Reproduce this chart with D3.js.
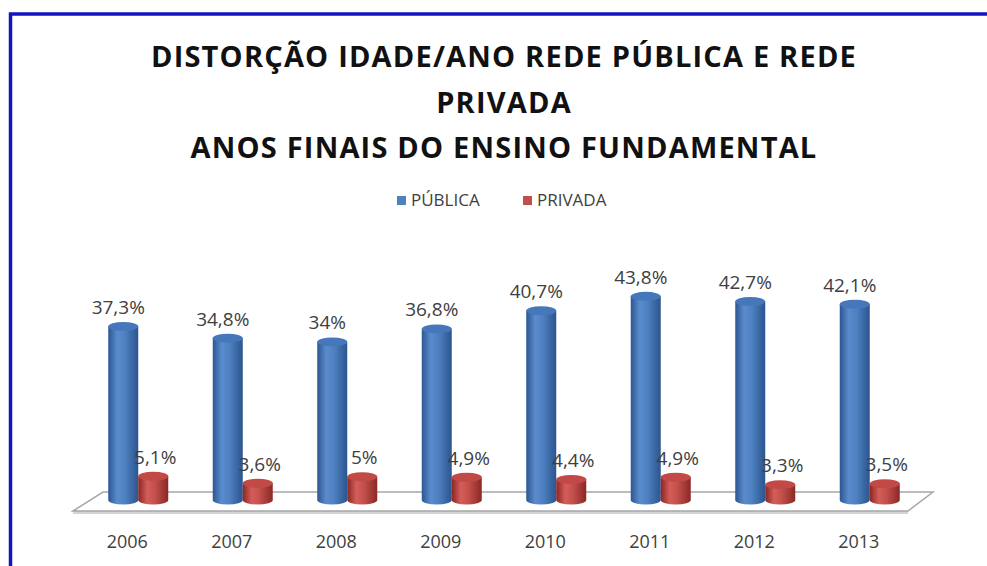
<!DOCTYPE html>
<html>
<head>
<meta charset="utf-8">
<script src="https://cdn.jsdelivr.net/npm/d3@7"></script>
<style>
  body { margin: 0; background: #fff; }
  svg { display: block; }
</style>
</head>
<body>
<svg id="chart" width="987" height="566"></svg>
<script>
var years = ['2006', '2007', '2008', '2009', '2010', '2011', '2012', '2013'];
var publica = [37.3, 34.8, 34, 36.8, 40.7, 43.8, 42.7, 42.1];
var privada = [5.1, 3.6, 5, 4.9, 4.4, 4.9, 3.3, 3.5];
var publicaLabels = ['37,3%', '34,8%', '34%', '36,8%', '40,7%', '43,8%', '42,7%', '42,1%'];
var privadaLabels = ['5,1%', '3,6%', '5%', '4,9%', '4,4%', '4,9%', '3,3%', '3,5%'];
var titleLines = ['DISTORÇÃO IDADE/ANO REDE PÚBLICA E REDE', 'PRIVADA', 'ANOS FINAIS DO ENSINO FUNDAMENTAL'];
var seriesNames = ['PÚBLICA', 'PRIVADA'];

var svg = d3.select('#chart');
var font = '"Open Sans", "Liberation Sans", sans-serif';

// frame
svg.append('path')
  .attr('d', 'M10.5,566 L10.5,14 L987,14')
  .attr('fill', 'none')
  .attr('stroke', '#1414c4')
  .attr('stroke-width', 3.5);

// title
svg.selectAll('.title')
  .data(titleLines)
  .enter().append('text')
  .attr('class', 'title')
  .attr('x', 504)
  .attr('y', (d, i) => 67 + i * 45.5)
  .attr('text-anchor', 'middle')
  .style('font-family', font)
  .style('font-weight', 'bold')
  .style('font-size', '29px')
  .style('letter-spacing', '1.2px')
  .style('fill', '#111')
  .text(d => d);

var x = d3.scaleBand().domain(years).range([75, 911]);
var y = d3.scaleLinear().domain([0, 45]).range([500, 290.75]);
var bw = x.bandwidth();
var r = 15;
var ry = 4.5;

var defs = svg.append('defs');
function grad(id, stops) {
  var g = defs.append('linearGradient').attr('id', id)
    .attr('x1', '0%').attr('x2', '100%').attr('y1', '0%').attr('y2', '0%');
  stops.forEach(s => g.append('stop').attr('offset', s[0]).attr('stop-color', s[1]));
}
grad('gBlue', [['0%', '#2c5691'], ['30%', '#5a8ccd'], ['55%', '#4f81c2'], ['100%', '#2b558e']]);
grad('gRed', [['0%', '#8a2624'], ['30%', '#d35d59'], ['55%', '#c4504c'], ['100%', '#8b2826']]);

// floor
var x0 = x.range()[0], x1 = x.range()[1], y0 = y(0);
var floor = [[x0 - 2, y0 + 11], [x0 + 28, y0 - 8], [x1 + 22, y0 - 8], [x1 - 3, y0 + 11]];
svg.append('path')
  .attr('d', 'M' + [x0 - 2, y0 + 11] + 'L' + [x1 - 3, y0 + 11] + 'L' + [x1 - 3, y0 + 14] + 'L' + [x0 - 2, y0 + 14] + 'Z')
  .attr('fill', '#d4d4d4');
svg.append('path')
  .attr('d', 'M' + floor.join('L') + 'Z')
  .attr('fill', '#fff')
  .attr('stroke', '#a6a6a6')
  .attr('stroke-width', 1.5);

function cylinder(cx, top, fillId, topColor) {
  var g = svg.append('g');
  g.append('path')
    .attr('d', 'M' + (cx - r) + ',' + top + 'L' + (cx - r) + ',' + y0 +
      'A' + r + ',' + ry + ' 0 0 0 ' + (cx + r) + ',' + y0 +
      'L' + (cx + r) + ',' + top + 'Z')
    .attr('fill', 'url(#' + fillId + ')');
  g.append('ellipse')
    .attr('cx', cx).attr('cy', top)
    .attr('rx', r).attr('ry', ry)
    .attr('fill', topColor);
}

var blueCx = d => x(d) + bw / 2 - 4;
var redCx = d => x(d) + bw / 2 + 26;

years.forEach(function (yr, i) {
  cylinder(blueCx(yr), y(publica[i]), 'gBlue', '#4677bb');
  cylinder(redCx(yr), y(privada[i]), 'gRed', '#c24a46');
});

var lblStyle = sel => sel
  .attr('text-anchor', 'middle')
  .style('font-family', font)
  .style('font-size', '19px')
  .style('fill', '#404040');

svg.selectAll('.lblPub')
  .data(years)
  .enter().append('text')
  .attr('class', 'lblPub')
  .attr('x', d => blueCx(d) - 5)
  .attr('y', (d, i) => y(publica[i]) - ry - 8)
  .call(lblStyle)
  .text((d, i) => publicaLabels[i]);

svg.selectAll('.lblPriv')
  .data(years)
  .enter().append('text')
  .attr('class', 'lblPriv')
  .attr('x', d => redCx(d) + 2)
  .attr('y', (d, i) => y(privada[i]) - ry - 8)
  .call(lblStyle)
  .text((d, i) => privadaLabels[i]);

// year axis labels
svg.selectAll('.year')
  .data(years)
  .enter().append('text')
  .attr('class', 'year')
  .attr('x', d => x(d) + bw / 2)
  .attr('y', 548)
  .call(lblStyle)
  .style('font-size', '18px')
  .text(d => d);

// legend
var legendColors = ['#4f81bd', '#c0504d'];
var legendX = [397, 523];
var lg = svg.selectAll('.leg')
  .data(seriesNames)
  .enter().append('g')
  .attr('class', 'leg')
  .attr('transform', (d, i) => 'translate(' + legendX[i] + ',196)');
lg.append('rect')
  .attr('width', 9).attr('height', 9)
  .attr('fill', (d, i) => legendColors[i]);
lg.append('text')
  .attr('x', 14)
  .attr('y', 10)
  .style('font-family', font)
  .style('font-size', '17px')
  .style('fill', '#404040')
  .text(d => d);
</script>
</body>
</html>
